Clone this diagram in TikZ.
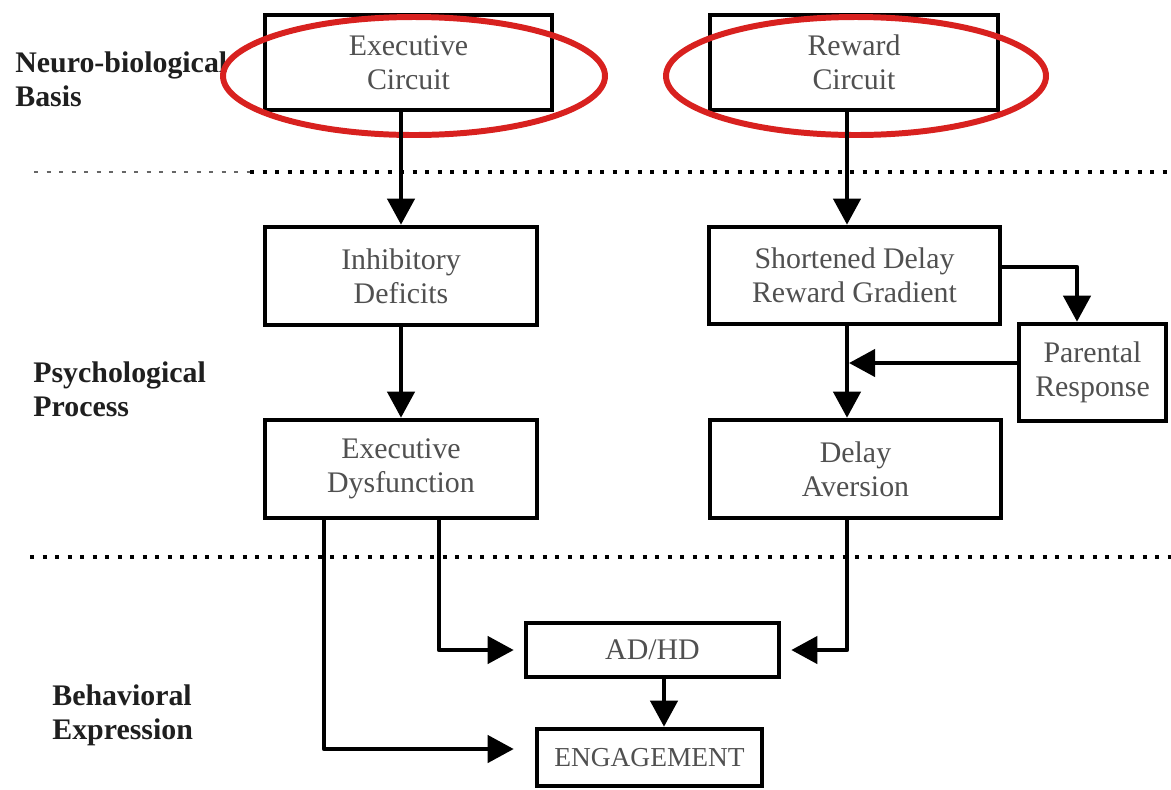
\documentclass[tikz,border=0pt]{standalone}
\usepackage{fontspec}
\setmainfont{Liberation Serif}
\usepackage{xcolor}
\usetikzlibrary{arrows.meta,positioning}
\definecolor{boxtext}{HTML}{505050}
\definecolor{ringred}{HTML}{D8211F}

\begin{document}
\begin{tikzpicture}[
  every node/.style={font=\fontsize{17}{19.5}\selectfont},
  bx/.style={draw,line width=2.6pt,align=center,text=boxtext,inner sep=0pt,fill=white},
  lvl/.style={anchor=west,align=left,inner sep=0pt,font=\fontsize{17}{19.5}\selectfont\bfseries,text=black!88},
  arr/.style={-{Triangle[length=0.52cm,width=0.54cm]},line width=2.4pt,line join=round},
  ring/.style={draw=ringred,line width=3.4pt},
  sep/.style={line width=0.08cm,dash pattern=on 0.08cm off 0.17cm}]
 \useasboundingbox (0,0) rectangle (23.42,-15.78);
 % level separators
 \draw[sep,line width=0.04cm,black!60] (0.68,-3.44) -- (5.0,-3.44);
 \draw[sep] (5.0,-3.44) -- (23.42,-3.44);
 \draw[sep] (0.6,-11.14) -- (23.42,-11.14);
 % level labels
 \node[lvl] (nb) at (0.3,-1.59) {Neuro-biological\\Basis};
 \node[lvl] (pp) at (0.66,-7.79) {Psychological\\Process};
 \node[lvl] (be) at (1.04,-14.3) {Behavioral\\Expression};
 % boxes
 \node[bx,minimum width=5.74cm,minimum height=1.9cm] (ExC) at (8.17,-1.25) {Executive\\Circuit};
 \node[bx,minimum width=5.76cm,minimum height=1.9cm] (ReC) at (17.08,-1.25) {Reward\\Circuit};
 \node[bx,minimum width=5.44cm,minimum height=1.96cm] (InD) at (8.02,-5.52) {Inhibitory\\Deficits};
 \node[bx,minimum width=5.82cm,minimum height=1.94cm] (SDR) at (17.09,-5.51) {Shortened Delay\\Reward Gradient};
 \node[bx,minimum width=2.94cm,minimum height=1.94cm] (PaR) at (21.85,-7.45) {Parental\\Response};
 \node[bx,minimum width=5.44cm,minimum height=1.96cm] (ExD) at (8.02,-9.38) {Executive\\Dysfunction};
 \node[bx,minimum width=5.82cm,minimum height=1.96cm] (DeA) at (17.11,-9.38) {Delay\\Aversion};
 \node[bx,minimum width=5.06cm,minimum height=1.08cm] (ADHD) at (13.05,-13.0) {AD/HD};
 \node[bx,minimum width=4.5cm,minimum height=1.14cm,font=\fontsize{15.6}{18}\selectfont] (ENG) at (12.99,-15.15) {ENGAGEMENT};
 % red rings
 \draw[ring] (8.28,-1.52) ellipse (3.82 and 1.18);
 \draw[ring] (17.12,-1.52) ellipse (3.8 and 1.18);
 % bend points
 \coordinate (rc) at (16.94,0);
 \coordinate (pr) at (21.54,-5.34);
 \coordinate (pm) at (16.94,-7.26);
 \coordinate (e1) at (6.48,-14.98);
 \coordinate (e2) at (8.78,-13.0);
 \coordinate (ad) at (13.28,0);
 % connectors
 \draw[arr] (ExC.south -| InD) -- (InD.north);
 \draw[arr] (InD) -- (ExD);
 \draw[arr] (ReC.south -| rc) -- (SDR.north -| rc);
 \draw[arr] (SDR.south -| rc) -- (DeA.north -| rc);
 \draw[arr] (SDR.east |- pr) -| (PaR.north -| pr);
 \draw[arr,shorten >=0.04cm] (PaR.west |- pm) -- (pm);
 \draw[arr,shorten >=0.42cm] (ExD.south -| e1) |- (ENG.west |- e1);
 \draw[arr,shorten >=0.2cm] (ExD.south -| e2) |- (ADHD.west);
 \draw[arr,shorten >=0.2cm] (DeA.south -| rc) |- (ADHD.east);
 \draw[arr] (ADHD.south -| ad) -- (ENG.north -| ad);
\end{tikzpicture}
\end{document}
